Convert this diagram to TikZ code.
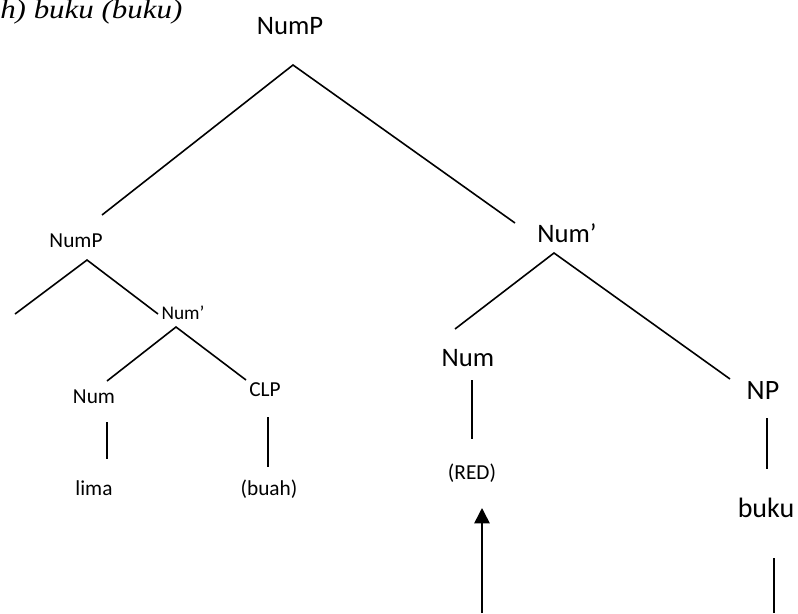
\documentclass[tikz,border=0pt]{standalone}
\usepackage{fontspec}
\setmainfont{Carlito}
\newfontfamily\glossfont{Liberation Serif}
\usetikzlibrary{positioning, arrows.meta}

\begin{document}
\begin{tikzpicture}[x=0.75pt, y=-0.75pt,
        branch/.style={line width=1.2pt},
        catbig/.style={inner sep=0pt, font=\fontsize{20}{24}\selectfont},
        catmid/.style={inner sep=0pt, font=\fontsize{16}{19}\selectfont},
        catlow/.style={inner sep=0pt, font=\fontsize{14.5}{17}\selectfont}]
        \useasboundingbox (0,0) rectangle (798,613);

        % example line at the top edge
        \node[anchor=base west, inner sep=0pt, font=\glossfont\itshape\fontsize{20}{24}\selectfont] (gloss) at (0,19) {\scalebox{1.16}[1]{h) buku (buku)}};

        % root
        \node[catbig] (root) at (290,26) {NumP};
        \coordinate (rootApex) at (293,65);
        \coordinate (rootL) at (102,215);
        \coordinate (rootR) at (515,223);
        \draw[branch] (rootL) -- (rootApex) -- (rootR);

        % left NumP
        \node[catmid] (lnump) at (76,241) {NumP};
        \coordinate (lnumpApex) at (87,260);
        \coordinate (lnumpL) at (15,314);
        \coordinate (lnumpR) at (158,314);
        \draw[branch] (lnumpL) -- (lnumpApex) -- (lnumpR);

        \node[catlow] (lbar) at (183,313) {Num’};
        \coordinate (lbarApex) at (176,327);
        \coordinate (lbarL) at (107,381);
        \coordinate (lbarR) at (246,380);
        \draw[branch] (lbarL) -- (lbarApex) -- (lbarR);

        \node[catmid] (lnum) at (94,397) {Num};
        \node[catmid] (clp) at (265,390) {CLP};
        \coordinate (lnumT) at (107,422);
        \coordinate (lnumB) at (107,459);
        \coordinate (clpT) at (268,417);
        \coordinate (clpB) at (268,467);
        \draw[branch] (lnumT) -- (lnumB);
        \draw[branch] (clpT) -- (clpB);
        \node[catmid] (lima) at (94,488) {lima};
        \node[catmid] (buah) at (269,489) {(buah)};

        % right Num'
        \node[catbig] (rbar) at (567,233) {Num’};
        \coordinate (rbarApex) at (554,253);
        \coordinate (rbarL) at (455,329);
        \coordinate (rbarR) at (730,379);
        \draw[branch] (rbarL) -- (rbarApex) -- (rbarR);

        \node[catbig] (rnum) at (468,358) {Num};
        \coordinate (rnumT) at (472,380);
        \coordinate (rnumB) at (472,439);
        \draw[branch] (rnumT) -- (rnumB);
        \node[catmid] (red) at (472,473) {(RED)};

        \node[catbig, font=\fontsize{21}{25}\selectfont] (np) at (763,391) {NP};
        \coordinate (npT) at (767,418);
        \coordinate (npB) at (767,469);
        \draw[branch] (npT) -- (npB);
        \node[catbig, font=\fontsize{21}{25}\selectfont] (buku) at (766,508) {buku};
        \coordinate (bukuT) at (774,558);
        \coordinate (bukuB) at (774,613);
        \draw[branch] (bukuT) -- (bukuB);

        % movement
        \coordinate (moveFrom) at (482,613);
        \coordinate (moveTo) at (482,508);
        \draw[branch, -{Triangle[length=11.5pt, width=11.5pt]}] (moveFrom) -- (moveTo);
\end{tikzpicture}
\end{document}
